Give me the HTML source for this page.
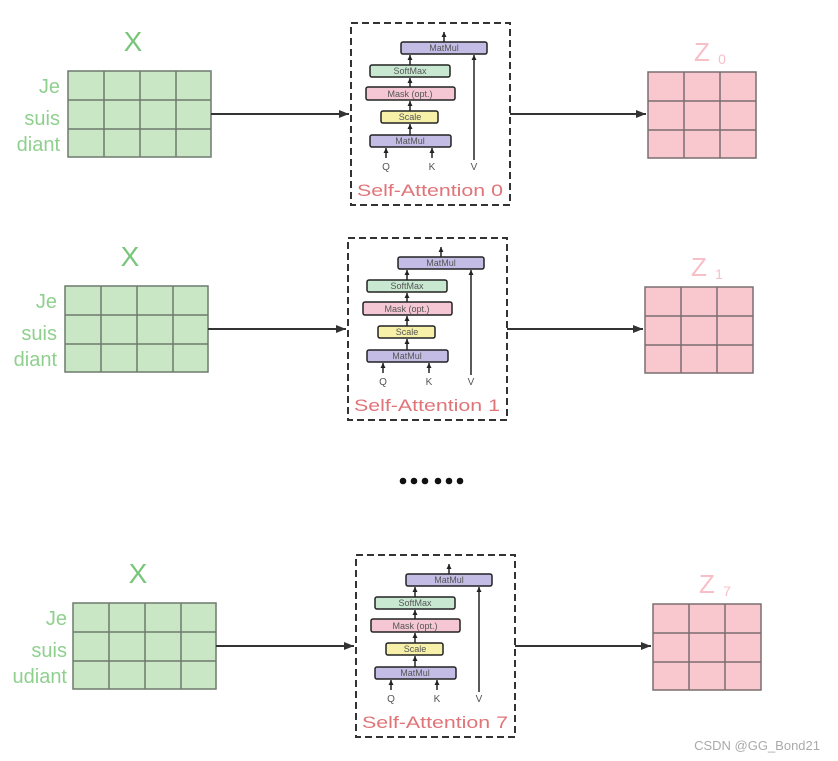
<!DOCTYPE html>
<html><head><meta charset="utf-8"><style>
html,body{margin:0;padding:0;background:#fff;width:838px;height:761px;overflow:hidden}
svg{display:block;font-family:"Liberation Sans",sans-serif}
</style></head><body>
<svg width="838" height="761" viewBox="0 0 838 761" xmlns="http://www.w3.org/2000/svg">
<defs>
<marker id="ah" markerWidth="10" markerHeight="8" refX="10" refY="4" orient="auto" markerUnits="userSpaceOnUse"><path d="M0,0 L10,4 L0,8 z" fill="#333"/></marker>
<marker id="sa" markerWidth="5" markerHeight="5" refX="5" refY="2.5" orient="auto" markerUnits="userSpaceOnUse"><path d="M0,0 L5,2.5 L0,5 z" fill="#222"/></marker>
</defs>

<!-- ROW 0 -->
<g id="r0">
<text x="133" y="51" font-size="28" fill="#78c679" text-anchor="middle">X</text>
<g font-size="20" fill="#8fd08f" text-anchor="end"><text x="60" y="93">Je</text><text x="60" y="125">suis</text><text x="60" y="151">diant</text></g>
<g fill="#c9e7c5" stroke="#6e7a6e" stroke-width="1.5">
<rect x="68" y="71" width="143" height="86"/>
<path d="M104,71V157M140,71V157M176,71V157M68,100H211M68,129H211" fill="none"/>
</g>
<line x1="211" y1="114" x2="349" y2="114" stroke="#333" stroke-width="2" marker-end="url(#ah)"/>
<rect x="351" y="23" width="159" height="182" fill="none" stroke="#333" stroke-width="2" stroke-dasharray="7,4"/>
<g stroke="#222" stroke-width="1.5" font-size="9" text-anchor="middle">
<line x1="444" y1="42" x2="444" y2="32" marker-end="url(#sa)"/>
<rect x="401" y="42" width="86" height="12" rx="2" fill="#c3bde6"/>
<line x1="410" y1="65" x2="410" y2="55" marker-end="url(#sa)"/>
<rect x="370" y="65" width="80" height="12" rx="2" fill="#c8e8d2"/>
<line x1="410" y1="87" x2="410" y2="78" marker-end="url(#sa)"/>
<rect x="366" y="87" width="89" height="13" rx="2" fill="#f5c6d4"/>
<line x1="410" y1="111" x2="410" y2="101" marker-end="url(#sa)"/>
<rect x="381" y="111" width="57" height="12" rx="2" fill="#f6f0a8"/>
<line x1="410" y1="135" x2="410" y2="124" marker-end="url(#sa)"/>
<rect x="370" y="135" width="81" height="12" rx="2" fill="#c3bde6"/>
<line x1="386" y1="158" x2="386" y2="148" marker-end="url(#sa)"/>
<line x1="432" y1="158" x2="432" y2="148" marker-end="url(#sa)"/>
<line x1="474" y1="160" x2="474" y2="55" marker-end="url(#sa)"/>
</g>
<g font-size="9" fill="#555" text-anchor="middle">
<text x="444" y="51">MatMul</text><text x="410" y="74">SoftMax</text><text x="410" y="97">Mask (opt.)</text><text x="410" y="120">Scale</text><text x="410" y="144">MatMul</text>
<text x="386" y="170" font-size="10">Q</text><text x="432" y="170" font-size="10">K</text><text x="474" y="170" font-size="10">V</text>
</g>
<text x="430" y="196" font-size="17" fill="#e07478" text-anchor="middle" textLength="146" lengthAdjust="spacingAndGlyphs">Self-Attention 0</text>
<line x1="510" y1="114" x2="646" y2="114" stroke="#333" stroke-width="2" marker-end="url(#ah)"/>
<g fill="#f9c8cf" stroke="#7a6e70" stroke-width="1.5">
<rect x="648" y="72" width="108" height="86"/>
<path d="M684,72V158M720,72V158M648,101H756M648,130H756" fill="none"/>
</g>
<text x="702" y="61" font-size="26" fill="#f7c0c8" text-anchor="middle">Z</text><text x="722" y="64" font-size="14" fill="#f7c0c8" text-anchor="middle">0</text>
</g>

<!-- ROW 1 -->
<g transform="translate(-3,215)">
<text x="133" y="51" font-size="28" fill="#78c679" text-anchor="middle">X</text>
<g font-size="20" fill="#8fd08f" text-anchor="end"><text x="60" y="93">Je</text><text x="60" y="125">suis</text><text x="60" y="151">diant</text></g>
<g fill="#c9e7c5" stroke="#6e7a6e" stroke-width="1.5">
<rect x="68" y="71" width="143" height="86"/>
<path d="M104,71V157M140,71V157M176,71V157M68,100H211M68,129H211" fill="none"/>
</g>
<line x1="211" y1="114" x2="349" y2="114" stroke="#333" stroke-width="2" marker-end="url(#ah)"/>
<rect x="351" y="23" width="159" height="182" fill="none" stroke="#333" stroke-width="2" stroke-dasharray="7,4"/>
<g stroke="#222" stroke-width="1.5">
<line x1="444" y1="42" x2="444" y2="32" marker-end="url(#sa)"/>
<rect x="401" y="42" width="86" height="12" rx="2" fill="#c3bde6"/>
<line x1="410" y1="65" x2="410" y2="55" marker-end="url(#sa)"/>
<rect x="370" y="65" width="80" height="12" rx="2" fill="#c8e8d2"/>
<line x1="410" y1="87" x2="410" y2="78" marker-end="url(#sa)"/>
<rect x="366" y="87" width="89" height="13" rx="2" fill="#f5c6d4"/>
<line x1="410" y1="111" x2="410" y2="101" marker-end="url(#sa)"/>
<rect x="381" y="111" width="57" height="12" rx="2" fill="#f6f0a8"/>
<line x1="410" y1="135" x2="410" y2="124" marker-end="url(#sa)"/>
<rect x="370" y="135" width="81" height="12" rx="2" fill="#c3bde6"/>
<line x1="386" y1="158" x2="386" y2="148" marker-end="url(#sa)"/>
<line x1="432" y1="158" x2="432" y2="148" marker-end="url(#sa)"/>
<line x1="474" y1="160" x2="474" y2="55" marker-end="url(#sa)"/>
</g>
<g font-size="9" fill="#555" text-anchor="middle">
<text x="444" y="51">MatMul</text><text x="410" y="74">SoftMax</text><text x="410" y="97">Mask (opt.)</text><text x="410" y="120">Scale</text><text x="410" y="144">MatMul</text>
<text x="386" y="170" font-size="10">Q</text><text x="432" y="170" font-size="10">K</text><text x="474" y="170" font-size="10">V</text>
</g>
<text x="430" y="196" font-size="17" fill="#e07478" text-anchor="middle" textLength="146" lengthAdjust="spacingAndGlyphs">Self-Attention 1</text>
<line x1="510" y1="114" x2="646" y2="114" stroke="#333" stroke-width="2" marker-end="url(#ah)"/>
<g fill="#f9c8cf" stroke="#7a6e70" stroke-width="1.5">
<rect x="648" y="72" width="108" height="86"/>
<path d="M684,72V158M720,72V158M648,101H756M648,130H756" fill="none"/>
</g>
<text x="702" y="61" font-size="26" fill="#f7c0c8" text-anchor="middle">Z</text><text x="722" y="64" font-size="14" fill="#f7c0c8" text-anchor="middle">1</text>
</g>

<!-- dots -->
<g fill="#111"><circle cx="403" cy="481" r="3.3"/><circle cx="414" cy="481" r="3.3"/><circle cx="425" cy="481" r="3.3"/><circle cx="438" cy="481" r="3.3"/><circle cx="449" cy="481" r="3.3"/><circle cx="460" cy="481" r="3.3"/></g>

<!-- ROW 7 -->
<g transform="translate(5,532)">
<text x="133" y="51" font-size="28" fill="#78c679" text-anchor="middle">X</text>
<g font-size="20" fill="#8fd08f" text-anchor="end"><text x="62" y="93">Je</text><text x="62" y="125">suis</text><text x="62" y="151">udiant</text></g>
<g fill="#c9e7c5" stroke="#6e7a6e" stroke-width="1.5">
<rect x="68" y="71" width="143" height="86"/>
<path d="M104,71V157M140,71V157M176,71V157M68,100H211M68,129H211" fill="none"/>
</g>
<line x1="211" y1="114" x2="349" y2="114" stroke="#333" stroke-width="2" marker-end="url(#ah)"/>
<rect x="351" y="23" width="159" height="182" fill="none" stroke="#333" stroke-width="2" stroke-dasharray="7,4"/>
<g stroke="#222" stroke-width="1.5">
<line x1="444" y1="42" x2="444" y2="32" marker-end="url(#sa)"/>
<rect x="401" y="42" width="86" height="12" rx="2" fill="#c3bde6"/>
<line x1="410" y1="65" x2="410" y2="55" marker-end="url(#sa)"/>
<rect x="370" y="65" width="80" height="12" rx="2" fill="#c8e8d2"/>
<line x1="410" y1="87" x2="410" y2="78" marker-end="url(#sa)"/>
<rect x="366" y="87" width="89" height="13" rx="2" fill="#f5c6d4"/>
<line x1="410" y1="111" x2="410" y2="101" marker-end="url(#sa)"/>
<rect x="381" y="111" width="57" height="12" rx="2" fill="#f6f0a8"/>
<line x1="410" y1="135" x2="410" y2="124" marker-end="url(#sa)"/>
<rect x="370" y="135" width="81" height="12" rx="2" fill="#c3bde6"/>
<line x1="386" y1="158" x2="386" y2="148" marker-end="url(#sa)"/>
<line x1="432" y1="158" x2="432" y2="148" marker-end="url(#sa)"/>
<line x1="474" y1="160" x2="474" y2="55" marker-end="url(#sa)"/>
</g>
<g font-size="9" fill="#555" text-anchor="middle">
<text x="444" y="51">MatMul</text><text x="410" y="74">SoftMax</text><text x="410" y="97">Mask (opt.)</text><text x="410" y="120">Scale</text><text x="410" y="144">MatMul</text>
<text x="386" y="170" font-size="10">Q</text><text x="432" y="170" font-size="10">K</text><text x="474" y="170" font-size="10">V</text>
</g>
<text x="430" y="196" font-size="17" fill="#e07478" text-anchor="middle" textLength="146" lengthAdjust="spacingAndGlyphs">Self-Attention 7</text>
<line x1="510" y1="114" x2="646" y2="114" stroke="#333" stroke-width="2" marker-end="url(#ah)"/>
<g fill="#f9c8cf" stroke="#7a6e70" stroke-width="1.5">
<rect x="648" y="72" width="108" height="86"/>
<path d="M684,72V158M720,72V158M648,101H756M648,130H756" fill="none"/>
</g>
<text x="702" y="61" font-size="26" fill="#f7c0c8" text-anchor="middle">Z</text><text x="722" y="64" font-size="14" fill="#f7c0c8" text-anchor="middle">7</text>
</g>

<text x="820" y="750" font-size="13" fill="#aaa" text-anchor="end">CSDN @GG_Bond21</text>
</svg>
</body></html>
